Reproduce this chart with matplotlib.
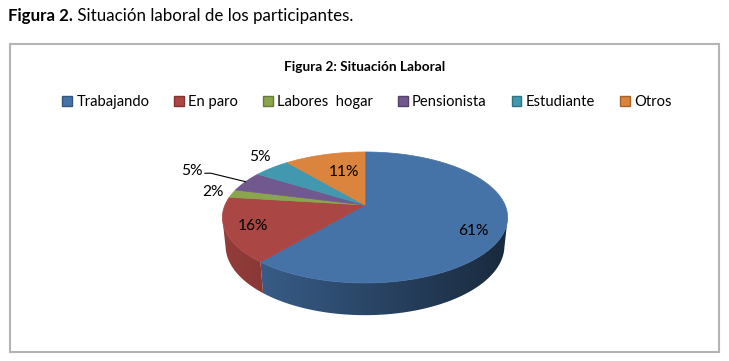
import numpy as np
import matplotlib
matplotlib.use("Agg")
import matplotlib.pyplot as plt
from matplotlib.patches import Polygon, Rectangle, Patch
import matplotlib.colors as mcolors

# ---------------------------------------------------------------
# data
# ---------------------------------------------------------------
categories = ["Trabajando", "En paro", "Labores  hogar", "Pensionista", "Estudiante", "Otros"]
values = [61, 16, 2, 5, 5, 11]
colors = ["#4572A7", "#AA4643", "#89A54E", "#71588F", "#4198AF", "#DB843D"]

# label placement (fraction of radius, small pixel nudges) and leader line flag
label_r = [0.78, 0.84, 1.15, 1.50, 1.22, 0.62]
label_dx = [0, 4, 0, 0, 6, 5]
label_dy = [8, 0, 0, 0, -4, 0]
leader = [False, False, False, True, False, False]

# ---------------------------------------------------------------
# simple perspective projection for a 3D pie
# ---------------------------------------------------------------
cx, cy = 365, 205
phi = np.radians(26.8)
D = 4.69
f = 140 * D
h = 0.228
cphi, sphi = np.cos(phi), np.sin(phi)


def project(X, Z, Y=0.0):
    w = D + Z * cphi - Y * sphi
    v = Z * sphi + Y * cphi
    return cx + f * X / w, cy - f * v / w


def rim(theta, r=1.0, Y=0.0):
    t = np.radians(theta)
    return project(r * np.sin(t), r * np.cos(t), Y)


plt.rcParams["font.family"] = ["Lato", "DejaVu Sans"]

fig = plt.figure(figsize=(7.29, 3.61), dpi=100)
ax = fig.add_axes([0, 0, 1, 1])
ax.set_xlim(0, 729)
ax.set_ylim(361, 0)
ax.axis("off")

# outer caption
t1 = ax.text(8, 21, "Figura 2.", fontsize=12.2, fontweight="bold", va="baseline", ha="left")
ax.annotate(" Situación laboral de los participantes.", xy=(1, 0), xycoords=t1,
            va="bottom", ha="left", fontsize=12.2)

# chart frame
ax.add_patch(Rectangle((10, 44), 709, 308, facecolor="white", edgecolor="#B4B4B4", lw=1.5))

ax.text(365, 67, "Figura 2: Situación Laboral", fontsize=9.8, fontweight="bold",
        ha="center", va="center")

# wedge angles (clockwise from 12 o'clock)
fracs = np.array(values) / np.sum(values)
ends = np.cumsum(fracs) * 360
starts = ends - fracs * 360

# side surface: one polygon per wedge, filled with a horizontal shading gradient
vis_lo, vis_hi = 102.0, 258.0
gx = np.linspace(cx - 150, cx + 150, 300)
shade = 0.62 - 0.25 * (gx - cx) / 140.0
for s, e, col in zip(starts, ends, colors):
    a0, a1 = max(s, vis_lo), min(e, vis_hi)
    if a1 <= a0:
        continue
    th = np.linspace(a0, a1, 80)
    top = [rim(a) for a in th]
    bot = [rim(a, Y=-h) for a in th[::-1]]
    poly = Polygon(top + bot, closed=True, facecolor="none", edgecolor="none")
    ax.add_patch(poly)
    base = np.array(mcolors.to_rgb(col))
    img = np.clip(shade[None, :, None] * base[None, None, :], 0, 1)
    im = ax.imshow(img, extent=(gx[0], gx[-1], cy + 130, cy - 20), aspect="auto",
                   interpolation="bilinear", zorder=1)
    im.set_clip_path(poly)

# top face
for s, e, col in zip(starts, ends, colors):
    th = np.linspace(s, e, max(int((e - s) * 2), 4))
    pts = [project(0, 0)] + [rim(a) for a in th]
    ax.add_patch(Polygon(pts, closed=True, facecolor=col, edgecolor=col, lw=0.5, zorder=2))

# percentage labels
for s, e, v, r, dx, dy, ld in zip(starts, ends, values, label_r, label_dx, label_dy, leader):
    mid = 0.5 * (s + e)
    lx, ly = rim(mid, r)
    lx, ly = lx + dx, ly + dy
    ax.text(lx, ly, f"{v}%", fontsize=11.2, ha="center", va="center", zorder=3)
    if ld:
        ex, ey = rim(mid, 1.0)
        ax.plot([lx + 13, lx + 19, ex], [ly + 2, ly + 2, ey], color="black", lw=0.8, zorder=3)

# legend
handles = [Patch(facecolor=c, edgecolor=np.array(mcolors.to_rgb(c)) * 0.75) for c in colors]
ax.legend(handles, categories, ncol=6, loc="center", bbox_to_anchor=(367, 102),
          bbox_transform=ax.transData, frameon=False, fontsize=10.6,
          handlelength=0.65, handleheight=0.65, handletextpad=0.3, columnspacing=1.7)

ax.set_xlim(0, 729)
ax.set_ylim(361, 0)
fig.savefig("out.png", dpi=100)
